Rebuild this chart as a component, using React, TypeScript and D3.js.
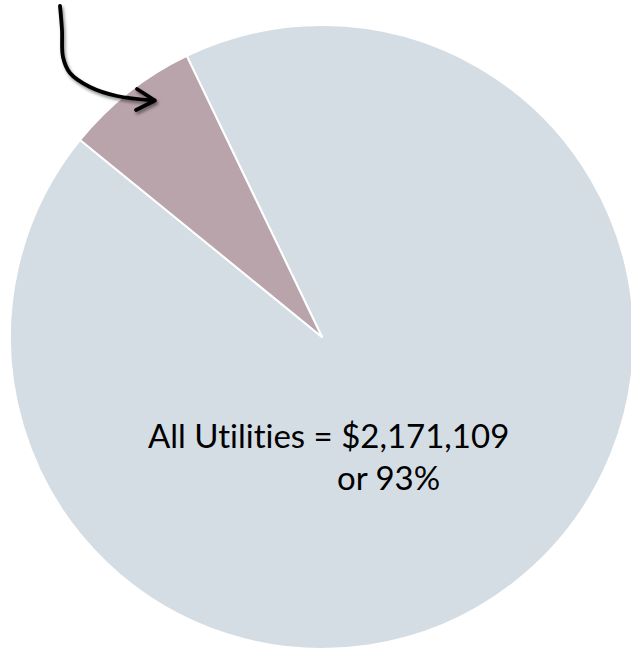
import React from "react";
import * as d3 from "d3";

const categories = ["All Utilities", "Other"];
const values = [2171109, 163000];
const labelLines = ["All Utilities = $2,171,109", "or 93%"];
const colors = ["#D4DDE4", "#B9A4AB"];

const W = 631;
const H = 651;
const cx = 322;
const cy = 337;
const R = 312;

export default function App() {
  const startDeg = -25.7;
  const pie = d3
    .pie<number>()
    .sort(null)
    .value((d) => d)
    .startAngle((startDeg * Math.PI) / 180)
    .endAngle((startDeg * Math.PI) / 180 + 2 * Math.PI);
  const arcs = pie(values);
  const arc = d3.arc<d3.PieArcDatum<number>>().innerRadius(0).outerRadius(R);

  const arrowLine = d3.line().curve(d3.curveCatmullRom.alpha(0.5));
  const arrowPts: [number, number][] = [
    [60, 6],
    [62, 30],
    [63, 57],
    [70, 73],
    [90, 87],
    [117, 96],
    [154, 100.5],
  ];
  const headPts: [number, number][] = [
    [137, 89],
    [155, 100.5],
    [136, 110],
  ];

  return (
    <svg
      width={W}
      height={H}
      style={{ position: "absolute", left: 0, top: 0, background: "#fff" }}
    >
      <defs>
        <filter id="sh" x="-20%" y="-20%" width="140%" height="140%">
          <feDropShadow dx="1.5" dy="2.5" stdDeviation="1.8" floodColor="#000" floodOpacity="0.45" />
        </filter>
      </defs>
      <g transform={`translate(${cx},${cy})`}>
        {arcs.map((a, i) => (
          <path
            key={categories[i]}
            d={arc(a) || ""}
            fill={colors[i]}
            stroke="#fff"
            strokeWidth={2}
            strokeLinejoin="round"
          />
        ))}
      </g>
      <g filter="url(#sh)" fill="none" stroke="#000" strokeWidth={3.8} strokeLinecap="round" strokeLinejoin="round">
        <path d={arrowLine(arrowPts) || ""} />
        <path d={d3.line()(headPts) || ""} />
      </g>
      <g
        fontFamily="Lato, 'Open Sans', sans-serif"
        fontSize={33}
        fill="#000"
        style={{ fontVariantLigatures: "none" }}
      >
        <text x={148} y={448}>{labelLines[0]}</text>
        <text x={337} y={490}>{labelLines[1]}</text>
      </g>
    </svg>
  );
}
